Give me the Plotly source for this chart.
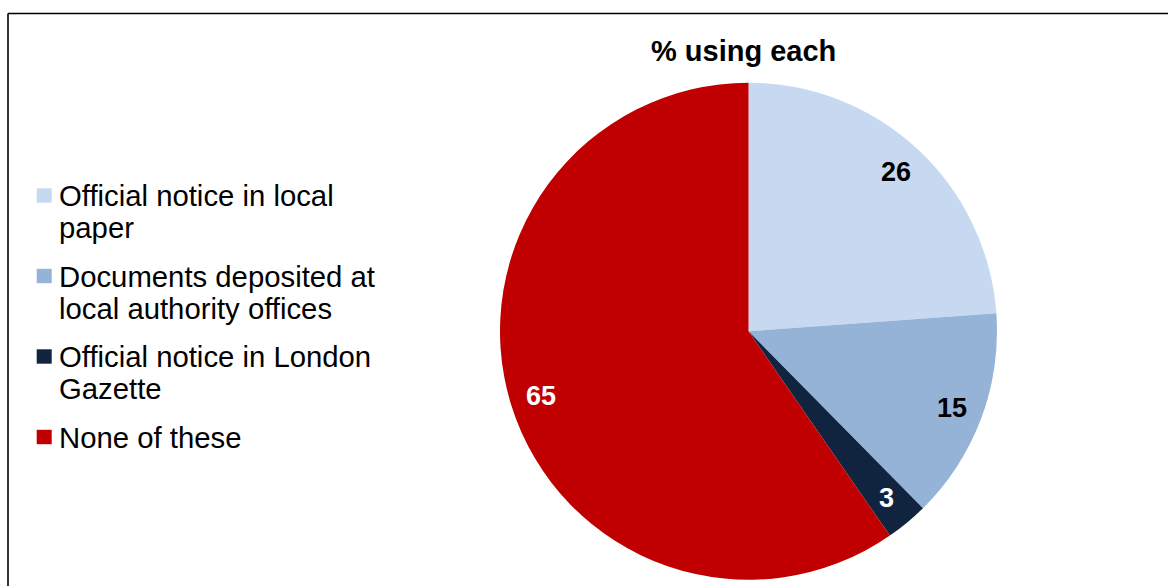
import math
import plotly.graph_objects as go

# Survey responses: share of respondents using each source (%)
labels = [
    "Official notice in local paper",
    "Documents deposited at local authority offices",
    "Official notice in London Gazette",
    "None of these",
]
legend_lines = [
    ["Official notice in local", "paper"],
    ["Documents deposited at", "local authority offices"],
    ["Official notice in London", "Gazette"],
    ["None of these"],
]
values = [26, 15, 3, 65]
colors = ["#C6D9F1", "#95B3D7", "#10243F", "#C00000"]
label_colors = ["#000000", "#000000", "#FFFFFF", "#FFFFFF"]

W, H = 1168, 586
cx, cy, R = 748.5, 331.25, 248.5   # pie centre and radius in px
FONT = "Liberation Sans, Arial"


def px_x(x):
    return x / W


def px_y(y):
    return 1 - y / H


fig = go.Figure(
    go.Pie(
        labels=labels,
        values=values,
        sort=False,
        direction="clockwise",
        rotation=0,
        marker=dict(colors=colors, line=dict(width=0)),
        textinfo="none",
        hoverinfo="label+value",
        showlegend=False,
        domain=dict(
            x=[px_x(cx - R), px_x(cx + R)],
            y=[px_y(cy + R), px_y(cy - R)],
        ),
    )
)

annotations = []
shapes = []

# Value labels placed along each slice's mid-angle
total = sum(values)
start = 0.0
for v, c in zip(values, label_colors):
    mid = (start + v / 2) / total * 2 * math.pi
    start += v
    r = 0.873 * R
    annotations.append(
        dict(
            x=px_x(cx + r * math.sin(mid)), y=px_y(cy - r * math.cos(mid)),
            xref="paper", yref="paper",
            text=f"<b>{v}</b>", showarrow=False,
            font=dict(family=FONT, size=27, color=c),
            xanchor="center", yanchor="middle",
        )
    )

# Chart title
annotations.append(
    dict(
        x=px_x(743.5), y=px_y(51), xref="paper", yref="paper",
        text="<b>% using each</b>", showarrow=False,
        font=dict(family=FONT, size=29, color="#000000"),
        xanchor="center", yanchor="middle",
    )
)

# Legend: colour key square plus wrapped text lines
item_top = 195.5
item_step = 80.5
line_step = 32
for i, (lines, col) in enumerate(zip(legend_lines, colors)):
    y0 = item_top + i * item_step
    shapes.append(
        dict(type="rect", xref="paper", yref="paper",
             x0=px_x(36.7), x1=px_x(51.7), y0=px_y(y0 - 7.2), y1=px_y(y0 + 7.2),
             fillcolor=col, line=dict(width=0))
    )
    for j, txt in enumerate(lines):
        annotations.append(
            dict(
                x=px_x(56.5), y=px_y(y0 + j * line_step),
                xref="paper", yref="paper",
                text=txt, showarrow=False,
                font=dict(family=FONT, size=29.3, color="#000000"),
                xanchor="left", yanchor="middle",
            )
        )

# Chart frame (top and left edges visible)
shapes += [
    dict(type="line", xref="paper", yref="paper",
         x0=px_x(8), x1=px_x(8), y0=-0.05, y1=px_y(13.5),
         line=dict(color="#000000", width=1.6)),
    dict(type="line", xref="paper", yref="paper",
         x0=px_x(8), x1=1.05, y0=px_y(13.5), y1=px_y(13.5),
         line=dict(color="#000000", width=1.6)),
]

fig.update_layout(
    width=W,
    height=H,
    margin=dict(l=0, r=0, t=0, b=0),
    paper_bgcolor="#FFFFFF",
    plot_bgcolor="#FFFFFF",
    font=dict(family=FONT, color="#000000"),
    showlegend=False,
    annotations=annotations,
    shapes=shapes,
)

fig.write_html("out.html")
